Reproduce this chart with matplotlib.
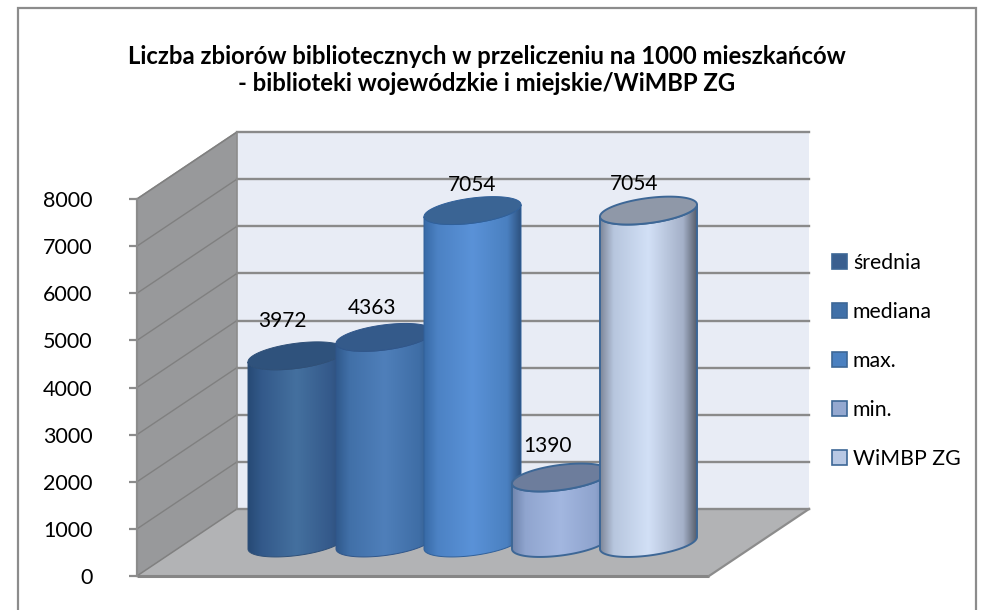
import numpy as np
import matplotlib
matplotlib.use("Agg")
import matplotlib.pyplot as plt
from matplotlib.colors import LinearSegmentedColormap
from matplotlib.patches import Patch, Polygon, Rectangle

plt.rcParams['font.family'] = ['Lato', 'DejaVu Sans']

# ======================
# 1. DATA
# ======================

categories = ["średnia", "mediana", "max.", "min.", "WiMBP ZG"]
values = [3972, 4363, 7054, 1390, 7054]
y_ticks = [0, 1000, 2000, 3000, 4000, 5000, 6000, 7000, 8000]

title = ("Liczba zbiorów bibliotecznych w przeliczeniu na 1000 mieszkańców\n"
         "- biblioteki wojewódzkie i miejskie/WiMBP ZG")

# ======================
# 2. STYLE
# ======================

# gradient across each cylinder, left to right
body_colors = [
    ["#264a75", "#33598a", "#44709f", "#34598a", "#2a4a72"],
    ["#30598c", "#4170a8", "#4f7fba", "#3f6ea6", "#2f5583"],
    ["#386aa6", "#4c82c4", "#5a92d8", "#4a80c0", "#2e5280"],
    ["#6f84ac", "#90a5cf", "#a3b7e0", "#8ea3cd", "#6f84ac"],
    ["#7d8698", "#b7c6de", "#d2e0f6", "#a4b0c8", "#575e6c"],
]
top_colors = ["#2f527c", "#345a8a", "#3a6494", "#6d7d9c", "#8f98a8"]
edge_colors = ["#2f5078", "#30568a", "#30609a", "#3d6796", "#3d6796"]
edge_widths = [0.7, 0.7, 0.7, 1.4, 1.4]
swatch_colors = ["#3a5f8f", "#4070a8", "#4a80c0", "#94a8d0", "#b8c8e4"]
label_offsets = [(-14, 35), (-12, 29), (0, 26), (-13, 31), (-14, 27)]

PX_PER_VALUE = 0.047125   # picture pixels for one unit of value
PX_PER_CAT = 88.0
FIRST_X = 296.5           # pixel centre of first cylinder
ZERO_Y = 576.0            # pixel of value 0

wall_x = (137 - FIRST_X) / PX_PER_CAT
floor_right = (709 - FIRST_X) / PX_PER_CAT
depth_x = 100 / PX_PER_CAT
depth_y = 67 / PX_PER_VALUE
base_y = 33 / PX_PER_VALUE    # cylinders stand inside the floor
radius_x = 48.5 / PX_PER_CAT
radius_y = 12.6 / PX_PER_VALUE
tilt = 6 / PX_PER_VALUE
y_top = y_ticks[-1]

# ======================
# 3. FIGURE
# ======================

fig = plt.figure(figsize=(9.86, 6.10), dpi=100, facecolor="white")
fig.add_artist(Rectangle((18 / 986, -0.02), (975.5 - 18) / 986, 1.02 - 8 / 610,
                         transform=fig.transFigure, fill=False,
                         edgecolor="#8c8c8c", linewidth=1.6))

ax = fig.add_axes([0, 0, 1, 1], facecolor="none")
xlim = (-FIRST_X / PX_PER_CAT, (986 - FIRST_X) / PX_PER_CAT)
ylim = ((ZERO_Y - 610) / PX_PER_VALUE, ZERO_Y / PX_PER_VALUE)

# back wall, left wall, floor
back_x0 = wall_x + depth_x
back_x1 = floor_right + depth_x
ax.add_patch(Polygon([(back_x0, depth_y), (back_x1, depth_y),
                      (back_x1, y_top + depth_y), (back_x0, y_top + depth_y)],
                     facecolor="#e8ecf5", edgecolor="none", zorder=1))
ax.add_patch(Polygon([(wall_x, 0), (back_x0, depth_y),
                      (back_x0, y_top + depth_y), (wall_x, y_top)],
                     facecolor="#98999b", edgecolor="#8c8c8c", linewidth=1.2, zorder=2))
ax.add_patch(Polygon([(wall_x, 0), (floor_right, 0), (back_x1, depth_y), (back_x0, depth_y)],
                     facecolor="#b2b3b5", edgecolor="none", zorder=2))

# gridlines
for t in y_ticks:
    ax.plot([wall_x, back_x0], [t, t + depth_y], color="#808080", lw=1.0, zorder=3)
    ax.plot([back_x0, back_x1], [t + depth_y, t + depth_y], color="#8a8a8a", lw=1.7, zorder=3)
ax.plot([wall_x, floor_right], [0, 0], color="#868686", lw=2.2, zorder=4,
        solid_capstyle="butt")
ax.plot([floor_right, back_x1], [0, depth_y], color="#8c8c8c", lw=1.6, zorder=4)

# cylinders, later ones over earlier ones
t_low = np.linspace(np.pi, 2 * np.pi, 80)
t_all = np.linspace(0, 2 * np.pi, 160)
stops = [0.0, 0.14, 0.5, 0.86, 1.0]

for i, val in enumerate(values):
    z = 10 + i
    low = base_y
    high = base_y + val

    ex = radius_x * np.cos(t_low)
    ey = radius_y * np.sin(t_low) + tilt * np.cos(t_low)
    body = np.vstack([
        np.column_stack([i + ex, low + ey]),
        np.column_stack([i + ex[::-1], high + ey[::-1]]),
    ])
    outline = Polygon(body, closed=True, transform=ax.transData, facecolor="none",
                      edgecolor=edge_colors[i], linewidth=edge_widths[i], zorder=z + 0.2)
    ax.add_patch(outline)

    cmap = LinearSegmentedColormap.from_list("c%d" % i, list(zip(stops, body_colors[i])))
    im = ax.imshow(np.linspace(0, 1, 256).reshape(1, -1), cmap=cmap, aspect="auto",
                   interpolation="bilinear", zorder=z,
                   extent=(i - radius_x, i + radius_x, low - 2 * radius_y, high + 2 * radius_y))
    im.set_clip_path(outline)

    cap = np.column_stack([i + radius_x * np.cos(t_all),
                           high + radius_y * np.sin(t_all) + tilt * np.cos(t_all)])
    ax.add_patch(Polygon(cap, closed=True, facecolor=top_colors[i],
                         edgecolor=edge_colors[i], linewidth=edge_widths[i], zorder=z + 0.4))

    ax.annotate(str(val), (i, high), xytext=(label_offsets[i][0] * 0.72, label_offsets[i][1] * 0.72),
                textcoords="offset points", ha="center", va="center",
                fontsize=15, color="black", zorder=30)

ax.set_xlim(xlim)
ax.set_ylim(ylim)

# y axis sits on the front edge of the left wall
ax.spines[["top", "right", "bottom"]].set_visible(False)
ax.spines["left"].set_position(("data", wall_x))
ax.spines["left"].set_bounds(0, y_top)
ax.spines["left"].set_color("#8c8c8c")
ax.spines["left"].set_linewidth(1.6)
ax.spines["left"].set_zorder(5)
ax.set_xticks([])
ax.set_yticks(y_ticks)
ax.tick_params(axis="y", length=6, width=1.6, color="#8c8c8c", labelsize=15.5, pad=26)

handles = [Patch(facecolor=c, edgecolor="#3d6796", linewidth=1.2) for c in swatch_colors]
ax.legend(handles, categories, loc="center left", bbox_to_anchor=(832 / 986, 1 - 361 / 610),
          frameon=False, fontsize=15.3, handlelength=0.7, handleheight=0.7,
          handletextpad=0.28, labelspacing=1.36, borderpad=0, borderaxespad=0)

fig.text(487 / 986, 1 - 70 / 610, title, ha="center", va="center", fontsize=17.2,
         fontweight="bold", color="black", linespacing=1.25)

fig.savefig("out.png", dpi=100)
